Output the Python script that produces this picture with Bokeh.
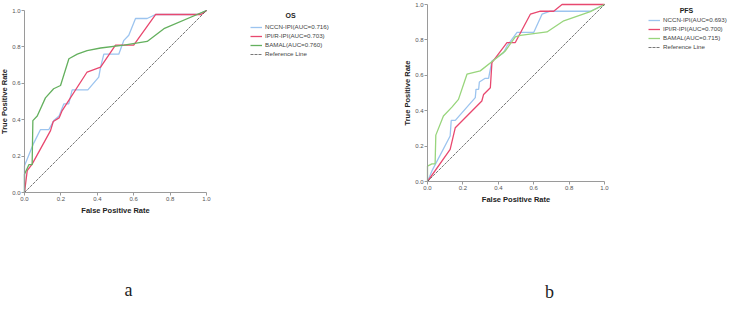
from bokeh.plotting import figure
from bokeh.layouts import row
from bokeh.models import Range1d, Legend, LegendItem, Label, CustomJSTickFormatter
from bokeh.embed import file_html
from bokeh.resources import INLINE

# ROC curve vertices (false positive rate, true positive rate)
os_nccn_fpr = [0.0, 0.0, 0.05, 0.088, 0.134, 0.161, 0.19, 0.216, 0.243, 0.262, 0.348, 0.408, 0.418, 0.436, 0.518, 0.546, 0.573, 0.61, 0.674, 0.72, 0.95, 1.0]
os_nccn_tpr = [0.0, 0.147, 0.27, 0.346, 0.346, 0.395, 0.42, 0.487, 0.487, 0.564, 0.564, 0.634, 0.689, 0.76, 0.76, 0.836, 0.864, 0.956, 0.956, 0.978, 0.978, 1.0]
os_ipi_fpr = [0.0, 0.015, 0.042, 0.143, 0.158, 0.19, 0.207, 0.344, 0.418, 0.5, 0.6, 0.72, 0.97, 1.0]
os_ipi_tpr = [0.0, 0.12, 0.156, 0.34, 0.39, 0.41, 0.45, 0.662, 0.689, 0.81, 0.81, 0.978, 0.978, 1.0]
os_bamal_fpr = [0.0, 0.0, 0.024, 0.042, 0.046, 0.07, 0.115, 0.16, 0.198, 0.244, 0.29, 0.344, 0.418, 0.546, 0.674, 0.766, 1.0]
os_bamal_tpr = [0.0, 0.1, 0.153, 0.153, 0.395, 0.42, 0.52, 0.57, 0.588, 0.735, 0.76, 0.78, 0.794, 0.81, 0.83, 0.9, 1.0]

pfs_nccn_fpr = [0.0, 0.025, 0.128, 0.134, 0.157, 0.27, 0.274, 0.289, 0.293, 0.326, 0.345, 0.364, 0.43, 0.449, 0.506, 0.6, 0.647, 0.694, 0.92, 1.0]
pfs_nccn_tpr = [0.0, 0.06, 0.257, 0.345, 0.345, 0.474, 0.521, 0.521, 0.562, 0.583, 0.583, 0.681, 0.728, 0.766, 0.842, 0.842, 0.945, 0.962, 0.962, 1.0]
pfs_ipi_fpr = [0.0, 0.128, 0.157, 0.307, 0.317, 0.355, 0.364, 0.449, 0.496, 0.581, 0.638, 0.713, 0.76, 1.0]
pfs_ipi_tpr = [0.0, 0.181, 0.304, 0.455, 0.492, 0.53, 0.672, 0.785, 0.785, 0.945, 0.962, 0.962, 1.0, 1.0]
pfs_bamal_fpr = [0.0, 0.0, 0.025, 0.043, 0.047, 0.09, 0.138, 0.175, 0.223, 0.298, 0.374, 0.44, 0.496, 0.525, 0.675, 0.77, 0.92, 1.0]
pfs_bamal_tpr = [0.0, 0.087, 0.1, 0.1, 0.262, 0.37, 0.42, 0.464, 0.606, 0.625, 0.685, 0.738, 0.817, 0.826, 0.845, 0.908, 0.96, 1.0]

os_labels = ["NCCN-IPI(AUC=0.716)", "IPI/R-IPI(AUC=0.703)", "BAMAL(AUC=0.760)", "Reference Line"]
pfs_labels = ["NCCN-IPI(AUC=0.693)", "IPI/R-IPI(AUC=0.700)", "BAMAL(AUC=0.715)", "Reference Line"]
ticks = [0.0, 0.2, 0.4, 0.6, 0.8, 1.0]

BLUE = "#9cc4ef"
RED = "#e8486f"
FONT = "Liberation Sans"
H = 310


def roc_panel(curves, labels, colors, title, letter, width,
              left, top, side, legend_xy, title_xy, letter_xy):
    """One ROC panel. The frame fills the whole canvas; the unit square
    starts `left` px from the left and `top` px from the top and is
    `side` px wide/high, with the axes pinned at 0."""
    x_start = -left / side
    x_end = (width - left) / side
    y_end = 1 + top / side
    y_start = 1 - (H - top) / side
    p = figure(width=width, height=H,
               x_range=Range1d(x_start, x_end), y_range=Range1d(y_start, y_end),
               output_backend="svg", toolbar_location=None, min_border=0)
    p.outline_line_color = None
    p.grid.visible = False
    p.background_fill_color = "white"
    p.border_fill_color = "white"

    fmt = CustomJSTickFormatter(code="return tick.toFixed(1);")
    for ax in (p.xaxis[0], p.yaxis[0]):
        ax.fixed_location = 0
        ax.bounds = (0, 1)
        ax.ticker = ticks
        ax.formatter = fmt
        ax.axis_line_color = "#9a9a9a"
        ax.major_tick_line_color = "#9a9a9a"
        ax.minor_tick_line_color = None
        ax.major_tick_out = 3
        ax.major_tick_in = 0
        ax.major_label_text_font = FONT
        ax.major_label_text_font_size = "6px"
        ax.major_label_text_color = "#555555"
        ax.major_label_standoff = 1
        ax.axis_label_text_font = FONT
        ax.axis_label_text_font_size = "7.5px"
        ax.axis_label_text_font_style = "bold"
        ax.axis_label_text_color = "#222222"
    p.xaxis[0].axis_label_standoff = 2
    p.yaxis[0].axis_label_standoff = 0
    p.xaxis.axis_label = "False Positive Rate"
    p.yaxis.axis_label = "True Positive Rate"

    renderers = []
    for (fx, ty), c in zip(curves, colors):
        renderers.append(p.line(fx, ty, line_color=c, line_width=1.3))
    ref = p.line([0, 1], [0, 1], line_color="#555555", line_width=0.8, line_dash="3 1")
    renderers.append(ref)

    items = [LegendItem(label=lab, renderers=[r]) for lab, r in zip(labels, renderers)]
    leg = Legend(items=items, location=legend_xy)
    leg.label_text_font = FONT
    leg.label_text_font_size = "6.2px"
    leg.label_text_color = "#444444"
    leg.label_height = 6
    leg.glyph_height = 6
    leg.glyph_width = 12
    leg.label_standoff = 3
    leg.spacing = 2
    leg.padding = 0
    leg.margin = 0
    leg.border_line_color = None
    leg.background_fill_alpha = 0
    p.add_layout(leg)

    p.add_layout(Label(x=title_xy[0], y=title_xy[1], text=title,
                       text_font=FONT, text_font_size="7px", text_font_style="bold",
                       text_color="#222222", text_align="center", text_baseline="middle"))
    p.add_layout(Label(x=letter_xy[0], y=letter_xy[1], text=letter,
                       text_font="Liberation Serif", text_font_size="18px",
                       text_color="#222222", text_align="center", text_baseline="middle"))
    return p


pa = roc_panel(
    [(os_nccn_fpr, os_nccn_tpr), (os_ipi_fpr, os_ipi_tpr), (os_bamal_fpr, os_bamal_tpr)],
    os_labels, [BLUE, RED, "#64b05e"], "OS", "a",
    385, 24, 10, 182,
    (250, 253), (1.4615, 0.9725), (0.571, -0.538))

pb = roc_panel(
    [(pfs_nccn_fpr, pfs_nccn_tpr), (pfs_ipi_fpr, pfs_ipi_tpr), (pfs_bamal_fpr, pfs_bamal_tpr)],
    pfs_labels, [BLUE, RED, "#98d57c"], "PFS", "b",
    363, 42, 4, 177,
    (263, 260), (1.463, 0.966), (0.689, -0.625))

layout = row(pa, pb, spacing=0)
open("out.html", "w").write(file_html(layout, INLINE))
